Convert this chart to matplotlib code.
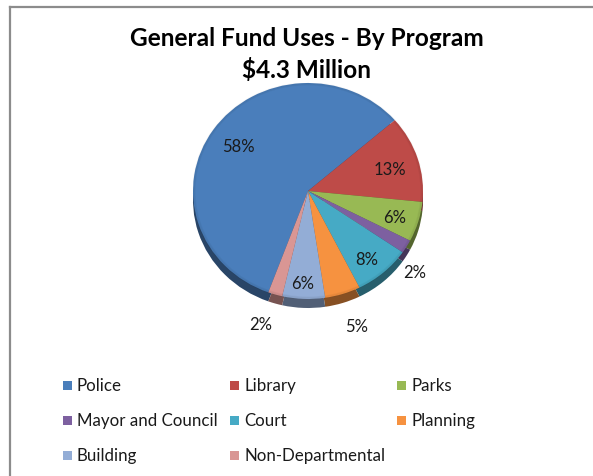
import numpy as np
import matplotlib
matplotlib.use("Agg")
import matplotlib.pyplot as plt
from matplotlib.patches import Rectangle, Ellipse
from matplotlib.lines import Line2D
from matplotlib.colors import to_rgb

# Data
programs = ["Police", "Library", "Parks", "Mayor and Council", "Court",
            "Planning", "Building", "Non-Departmental"]
shares = [58, 13, 6, 2, 8, 5, 6, 2]
colors = ["#4A7EBB", "#BE4B48", "#98B954", "#7D60A0", "#46AAC5",
          "#F69240", "#93ADD6", "#D99694"]
title_lines = ["General Fund Uses - By Program", "$4.3 Million"]

# Label placement (radius in pie units, angular nudge in degrees)
label_radius = [0.74, 0.74, 0.79, 1.19, 0.81, 1.32, 0.85, 1.30]
label_nudge = [0, -1.5, -1, -8, -2, 1, -1, -2]

W, H = 593, 477
fig = plt.figure(figsize=(W / 100, H / 100), dpi=100)
fig.patch.set_facecolor("white")

def px(x, y):
    return x / W, 1 - y / H

# Chart frame (top and left edges)
fig.add_artist(Line2D([10 / W, 1.0], [1 - 7.5 / H] * 2, color="#8C8C8C", lw=1.6))
fig.add_artist(Line2D([10 / W] * 2, [0, 1 - 7.5 / H], color="#8C8C8C", lw=1.6))

FONT = ["Lato", "DejaVu Sans"]

# Title
fig.text(*px(307, 38), title_lines[0], ha="center", va="center",
         fontsize=17.6, fontweight="bold", family=FONT, color="black")
fig.text(*px(307, 70), title_lines[1], ha="center", va="center",
         fontsize=17.6, fontweight="bold", family=FONT, color="black")

# Pie axes: ellipse centred at (308, 192) px, rx 115, ry 108
cx, cy, rx, ry = 308, 192, 115, 108
ax = fig.add_axes([(cx - rx) / W, (H - cy - ry) / H, 2 * rx / W, 2 * ry / H])
ax.set_axis_off()

start = 249.8
depth = 9 / ry

def darker(c, f):
    r, g, b = to_rgb(c)
    return (r * f, g * f, b * f)

# Side of the pie (shifted, darker copy)
side, _ = ax.pie(shares, colors=[darker(c, 0.55) for c in colors],
                 startangle=start, counterclock=False, center=(0, -depth),
                 wedgeprops=dict(linewidth=0))
# Top surface
wedges, _ = ax.pie(shares, colors=colors, startangle=start, counterclock=False,
                   wedgeprops=dict(linewidth=0))

# Faint darkening at the rim
for k in range(3):
    s = 1 - k * 0.008
    ax.add_patch(Ellipse((0, 0), 2 * s, 2 * s, fill=False,
                         edgecolor=(0, 0, 0, 0.04), lw=1.0, zorder=5))

for w in side + wedges:
    w.set_clip_on(False)

# Percentage labels
for w, v, r, dn in zip(wedges, shares, label_radius, label_nudge):
    a = np.deg2rad((w.theta1 + w.theta2) / 2 + dn)
    ax.text(r * np.cos(a), r * np.sin(a), f"{v}%", ha="center", va="center",
            fontsize=12, family=FONT, color="#1a1a1a", zorder=10, clip_on=False)

ax.set_xlim(-1, 1)
ax.set_ylim(-1, 1)
ax.set_aspect("auto")

# Legend grid, row-major, three columns
lx0, ly0, ldx, ldy = 63, 386, 167, 35
for i, (name, c) in enumerate(zip(programs, colors)):
    row, col = divmod(i, 3)
    x = lx0 + col * ldx
    y = ly0 + row * ldy
    fig.add_artist(Rectangle(px(x, y + 4.5), 9 / W, 9 / H,
                             facecolor=c, edgecolor="none"))
    fig.text(*px(x + 14, y), name, ha="left", va="center",
             fontsize=12.2, family=FONT, color="#1a1a1a")

fig.savefig("out.png", dpi=100, facecolor="white")
